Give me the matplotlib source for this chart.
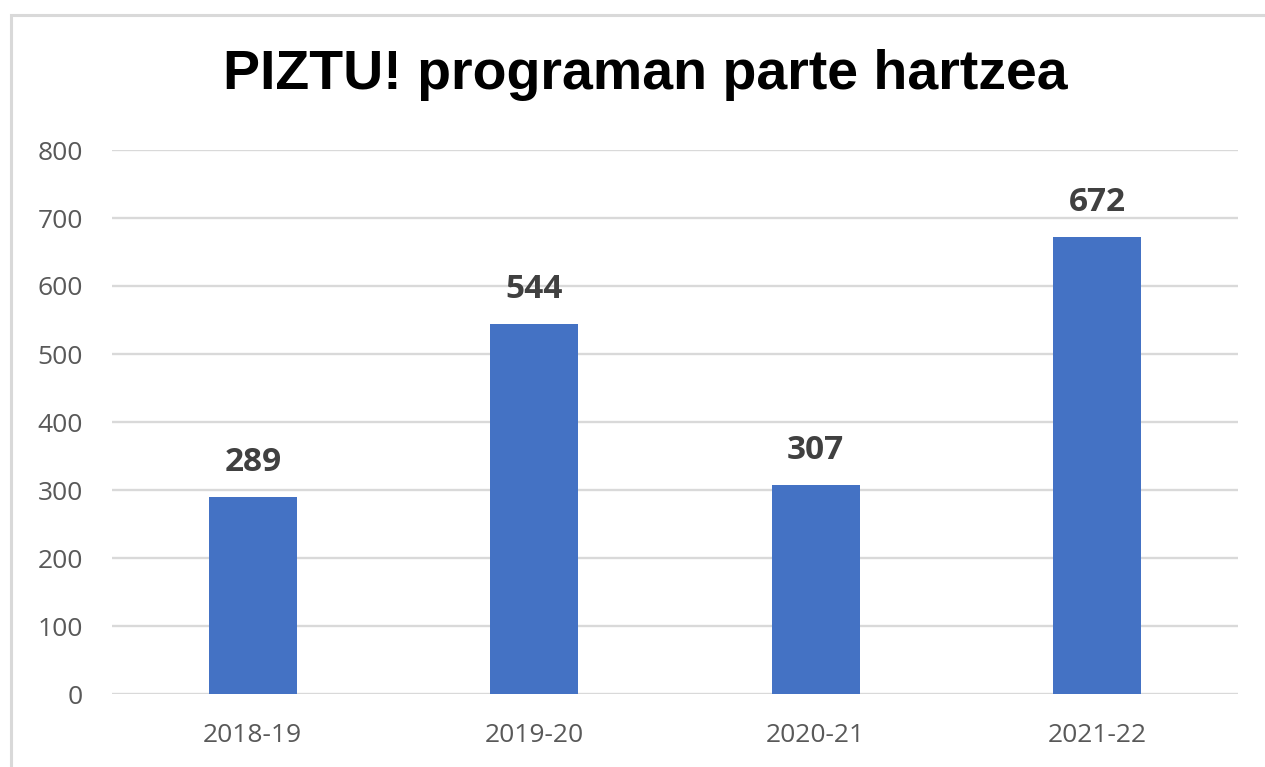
import matplotlib.pyplot as plt
from matplotlib.patches import Rectangle

# Datuak
ikasturteak = ['2018-19', '2019-20', '2020-21', '2021-22']
parte_hartzaileak = [289, 544, 307, 672]
y_ticks = [0, 100, 200, 300, 400, 500, 600, 700, 800]

W, H = 1265, 767
fig = plt.figure(figsize=(W / 100, H / 100), dpi=100)

# Kanpoko markoa (goian eta ezkerrean bakarrik ikusten da)
fig.patches.append(Rectangle((11 / W, -0.05), 1.1, 1.05 - 15 / H, transform=fig.transFigure,
                             fill=False, edgecolor='#d9d9d9', linewidth=2.2))

ax = fig.add_axes([112 / W, 1 - 694 / H, (1238 - 112) / W, (694 - 150) / H])

x = range(len(ikasturteak))
bars = ax.bar(x, parte_hartzaileak, width=0.3125, color='#4472C4', zorder=3)

for b, v in zip(bars, parte_hartzaileak):
    ax.annotate(str(v), (b.get_x() + b.get_width() / 2, v), xytext=(0, 13),
                textcoords='offset points', ha='center', va='bottom',
                fontsize=24, fontweight='bold', color='#404040', family='Open Sans')

ax.set_xlim(-0.5, 3.5)
ax.set_ylim(0, 800)
ax.set_yticks(y_ticks)
ax.set_xticks(list(x))
ax.set_xticklabels(ikasturteak)
ax.grid(axis='y', color='#d9d9d9', linewidth=1.7, zorder=0)
for s in ax.spines.values():
    s.set_visible(False)
ax.tick_params(length=0, colors='#595959', labelsize=19)
ax.tick_params(axis='y', pad=21)
ax.tick_params(axis='x', pad=21)
for lab in ax.get_xticklabels() + ax.get_yticklabels():
    lab.set_family('Open Sans')

fig.text(645 / W, 1 - 75 / H, 'PIZTU! programan parte hartzea', ha='center', va='center',
         fontsize=40, fontweight='bold', family='Liberation Sans', color='black')

fig.savefig('out.png', dpi=100)
